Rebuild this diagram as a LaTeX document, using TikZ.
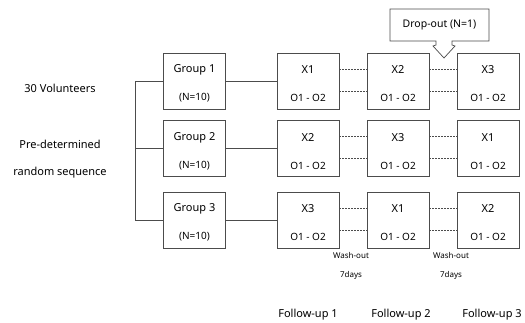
\documentclass[tikz,border=0pt]{standalone}
\usepackage{fontspec}
\setmainfont{Noto Sans}
\begin{document}
\begin{tikzpicture}[x=1pt,y=-1pt,
  box/.style={draw=black!70,line width=0.7pt,minimum width=62pt,minimum height=56pt,inner sep=0pt},
  big/.style={font=\fontsize{11}{13}\selectfont,inner sep=0pt},
  small/.style={font=\fontsize{10}{12}\selectfont,inner sep=0pt},
  tiny/.style={font=\fontsize{8}{10}\selectfont,inner sep=0pt},
  solidline/.style={draw=black!70,line width=0.7pt},
  dashline/.style={draw=black!70,line width=0.5pt,dash pattern=on 2pt off 1pt}]
\path[use as bounding box] (0,0) rectangle (525,322);
% left labels
\node[big] (vol) at (60,88) {30 Volunteers};
\node[big] (pre) at (60,144) {Pre-determined};
\node[big] (rnd) at (60,173) {random sequence};
% group boxes
\node[box] (g1) at (194.5,81) {};
\node[box] (g2) at (194.5,148.5) {};
\node[box] (g3) at (194.5,220) {};
\node[big] (g1t) at (194.5,70) {Group 1};
\node[small] (g1n) at (194.5,98) {(N=10)};
\node[big] (g2t) at (194.5,137.5) {Group 2};
\node[small] (g2n) at (194.5,165.5) {(N=10)};
\node[big] (g3t) at (194.5,209) {Group 3};
\node[small] (g3n) at (194.5,237) {(N=10)};
% treatment boxes
\foreach \r/\y in {1/81,2/148.5,3/220}{
  \foreach \c/\x in {1/308,2/398,3/488}{
    \node[box] (x\r\c) at (\x,\y) {};
  }
}
\foreach \r/\y/\a/\b/\cc in {1/81/X1/X2/X3,2/148.5/X2/X3/X1,3/220/X3/X1/X2}{
  \node[big] (t\r1) at (308,\y-11) {\a};
  \node[big] (t\r2) at (398,\y-11) {\b};
  \node[big] (t\r3) at (488,\y-11) {\cc};
  \foreach \c/\x in {1/308,2/398,3/488}{
    \node[small] (o\r\c) at (\x,\y+17) {O1 - O2};
  }
}
% bracket
\draw[solidline] (g1.west) -- ++(-28,0) coordinate (bt) |- (g3.west);
\draw[solidline] (g2.west) -- ++(-28,0);
% group to first treatment
\foreach \r in {1,2,3}{
  \draw[solidline] (g\r.east) -- (x\r1.west);
  \draw[dashline] ([yshift=12pt]x\r1.east) -- ([yshift=12pt]x\r2.west);
  \draw[dashline] ([yshift=-10pt]x\r1.east) -- ([yshift=-10pt]x\r2.west);
  \draw[dashline] ([yshift=12pt]x\r2.east) -- ([yshift=12pt]x\r3.west);
  \draw[dashline] ([yshift=-10pt]x\r2.east) -- ([yshift=-10pt]x\r3.west);
}
% drop-out callout
\draw[solidline,fill=white] (390,9) -- (489,9) -- (489,41) -- (452,41) -- (452,45) -- (455,46)
  -- (444,58) -- (433,46) -- (436,45) -- (436,41) -- (390,41) -- cycle;
\node[font=\fontsize{10.5}{12}\selectfont,inner sep=0pt] (drop) at (439.5,25) {Drop-out (N=1)};
% wash-out labels
\node[tiny] (w1) at (351,255) {Wash-out};
\node[tiny] (d1) at (351,275) {7days};
\node[tiny] (w2) at (451,255) {Wash-out};
\node[tiny] (d2) at (451,275) {7days};
% follow-up
\node[big] (f1) at (308,315) {Follow-up 1};
\node[big] (f2) at (401,315) {Follow-up 2};
\node[big] (f3) at (492,315) {Follow-up 3};
\end{tikzpicture}
\end{document}
